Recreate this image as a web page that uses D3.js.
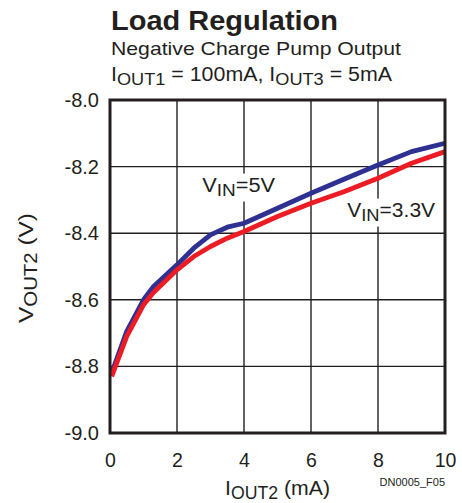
<!DOCTYPE html>
<html>
<head>
  <script src="https://cdn.jsdelivr.net/npm/d3@7"></script>
  <title>Load Regulation</title>
  <style>
    body { margin: 0; background: #fff; }
    svg text { font-family: "Liberation Sans", Arial, sans-serif; fill: #231f20; }
  </style>
</head>
<body>
<svg id="chart" width="462" height="503"></svg>
<script>
// data
var iout = [0.05, 0.5, 1.0, 1.3, 2, 2.5, 3, 3.5, 4, 5, 6, 7, 8, 9, 10];
var vin5 = [-8.82, -8.695, -8.60, -8.56, -8.495, -8.445, -8.405, -8.382, -8.37, -8.325, -8.28, -8.237, -8.195, -8.155, -8.13];
var vin33 = [-8.83, -8.71, -8.615, -8.578, -8.51, -8.47, -8.44, -8.415, -8.395, -8.35, -8.31, -8.275, -8.235, -8.19, -8.155];
var xTicks = [0, 2, 4, 6, 8, 10];
var yTicks = [-8.0, -8.2, -8.4, -8.6, -8.8, -9.0];

var svg = d3.select("#chart");
var pLeft = 110, pRight = 445, pTop = 100, pBottom = 433;

var x = d3.scaleLinear().domain([0, 10]).range([pLeft, pRight]);
var y = d3.scaleLinear().domain([-9, -8]).range([pBottom, pTop]);

// title block (source font is a bit wider than Liberation, so stretch to width)
svg.append("text").attr("x", 111).attr("y", 30)
  .attr("textLength", 227).attr("lengthAdjust", "spacingAndGlyphs")
  .style("font-size", "27.5px").style("font-weight", "bold").text("Load Regulation");
svg.append("text").attr("x", 111).attr("y", 55)
  .attr("textLength", 290).attr("lengthAdjust", "spacingAndGlyphs")
  .style("font-size", "19px").text("Negative Charge Pump Output");

var t3 = svg.append("text").attr("x", 111).attr("y", 81)
  .attr("textLength", 281).attr("lengthAdjust", "spacingAndGlyphs").style("font-size", "20px");
t3.append("tspan").text("I");
t3.append("tspan").attr("dy", 4).style("font-size", "17px").text("OUT1");
t3.append("tspan").attr("dy", -4).text(" = 100mA, I");
t3.append("tspan").attr("dy", 4).style("font-size", "17px").text("OUT3");
t3.append("tspan").attr("dy", -4).text(" = 5mA");

// grid
var grid = svg.append("g").attr("stroke", "#231f20").attr("stroke-width", 1.4);
grid.selectAll(".gx").data(xTicks.slice(1, -1)).enter().append("line")
  .attr("x1", function(d) { return x(d); }).attr("x2", function(d) { return x(d); })
  .attr("y1", pTop).attr("y2", pBottom);
grid.selectAll(".gy").data(yTicks.slice(1, -1)).enter().append("line")
  .attr("y1", function(d) { return y(d); }).attr("y2", function(d) { return y(d); })
  .attr("x1", pLeft).attr("x2", pRight);

// axes (labels only, frame drawn below)
var xAxis = d3.axisBottom(x).tickValues(xTicks).tickSize(0).tickPadding(20).tickFormat(d3.format("d"));
svg.append("g").attr("transform", "translate(0," + pBottom + ")").call(xAxis)
  .call(function(g) { g.select(".domain").remove(); })
  .selectAll("text").style("font-size", "19.5px").attr("fill", "#231f20");

var yAxis = d3.axisLeft(y).tickValues(yTicks).tickSize(0).tickPadding(11).tickFormat(d3.format(".1f"));
svg.append("g").attr("transform", "translate(" + pLeft + ",0)").call(yAxis)
  .call(function(g) { g.select(".domain").remove(); })
  .selectAll("text").style("font-size", "20px").attr("fill", "#231f20")
  .text(function(d) { return "-" + Math.abs(d).toFixed(1); });

// curves
var line = d3.line()
  .x(function(d) { return x(d[0]); })
  .y(function(d) { return y(d[1]); })
  .curve(d3.curveLinear);

svg.append("path").datum(d3.zip(iout, vin5))
  .attr("d", line).attr("fill", "none").attr("stroke", "#2e3192")
  .attr("stroke-width", 4.8).attr("stroke-linejoin", "round");
svg.append("path").datum(d3.zip(iout, vin33))
  .attr("d", line).attr("fill", "none").attr("stroke", "#ed1c24")
  .attr("stroke-width", 4.8).attr("stroke-linejoin", "round");

// frame
svg.append("rect").attr("x", pLeft).attr("y", pTop)
  .attr("width", pRight - pLeft).attr("height", pBottom - pTop)
  .attr("fill", "none").attr("stroke", "#231f20").attr("stroke-width", 3);

// curve labels with white backing
function curveLabel(xv, yv, sub, rest, w) {
  var g = svg.append("g");
  var bg = g.append("rect").attr("fill", "#fff");
  var t = g.append("text").attr("x", x(xv)).attr("y", y(yv))
    .attr("textLength", w).attr("lengthAdjust", "spacingAndGlyphs").style("font-size", "19.5px");
  t.append("tspan").text("V");
  t.append("tspan").attr("dy", 4).style("font-size", "17px").text(sub);
  t.append("tspan").attr("dy", -4).text(rest);
  var b = t.node().getBBox();
  bg.attr("x", b.x - 2).attr("y", b.y).attr("width", b.width + 4).attr("height", b.height + 2);
}
curveLabel(2.75, -8.275, "IN", "=5V", 73);
curveLabel(7.08, -8.35, "IN", "=3.3V", 88);

// axis titles
var xt = svg.append("text").attr("x", (pLeft + pRight) / 2).attr("y", 495)
  .attr("textLength", 105).attr("lengthAdjust", "spacingAndGlyphs")
  .attr("text-anchor", "middle").style("font-size", "21px");
xt.append("tspan").text("I");
xt.append("tspan").attr("dy", 4).style("font-size", "17.5px").text("OUT2");
xt.append("tspan").attr("dy", -4).text(" (mA)");

var yt = svg.append("text").attr("transform", "translate(33,268) rotate(-90)")
  .attr("textLength", 110).attr("lengthAdjust", "spacingAndGlyphs")
  .attr("text-anchor", "middle").style("font-size", "21px");
yt.append("tspan").text("V");
yt.append("tspan").attr("dy", 4).style("font-size", "17.5px").text("OUT2");
yt.append("tspan").attr("dy", -4).text(" (V)");

svg.append("text").attr("x", 445).attr("y", 486).attr("text-anchor", "end")
  .style("font-size", "11px").text("DN0005_F05");
</script>
</body>
</html>
